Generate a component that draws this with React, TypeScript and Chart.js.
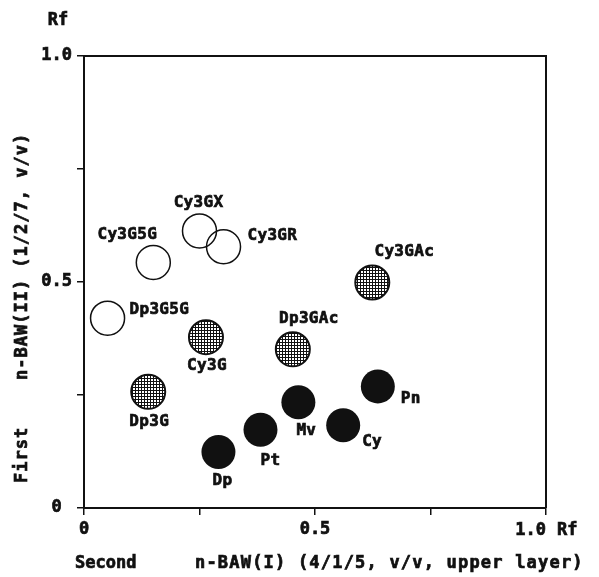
import React, { useEffect, useRef } from 'react';
import { Chart, registerables } from 'chart.js';

Chart.register(...registerables);

// ---- data ----
const openNames = ['Cy3G5G', 'Cy3GX', 'Cy3GR', 'Dp3G5G'];
const openX = [0.150, 0.250, 0.302, 0.051];
const openY = [0.543, 0.613, 0.578, 0.420];

const hatchNames = ['Cy3G', 'Dp3G', 'Dp3GAc', 'Cy3GAc'];
const hatchX = [0.264, 0.139, 0.452, 0.624];
const hatchY = [0.378, 0.257, 0.351, 0.499];

const solidNames = ['Dp', 'Pt', 'Mv', 'Cy', 'Pn'];
const solidX = [0.291, 0.382, 0.464, 0.561, 0.636];
const solidY = [0.124, 0.173, 0.234, 0.183, 0.269];

const xTickValues = [0, 0.5, 1];
const xTickLabels = ['0', '0.5', '1.0'];
const yTickValues = [0, 0.5, 1];
const yTickLabels = ['0', '0.5', '1.0'];
const unitLabel = 'Rf';
const xTitleLead = 'Second';
const xTitleMain = 'n-BAW(I) (4/1/5, v/v, upper layer)';
const yTitleLead = 'First';
const yTitleMain = 'n-BAW(II) (1/2/7, v/v)';

// ---- label placement relative to each marker (layout only) ----
const labelPlacement: Record<string, [number, number, CanvasTextAlign]> = {
  Cy3G5G: [-26, -28, 'center'],
  Cy3GX: [-1, -28, 'center'],
  Cy3GR: [24, -11, 'left'],
  Dp3G5G: [22, -8, 'left'],
  Cy3G: [1, 29, 'center'],
  Dp3G: [1, 30, 'center'],
  Dp3GAc: [16, -31, 'center'],
  Cy3GAc: [32, -31, 'center'],
  Dp: [4, 29, 'center'],
  Pt: [10, 31, 'center'],
  Mv: [8, 29, 'center'],
  Cy: [19, 17, 'left'],
  Pn: [23, 12, 'left'],
};

const MONO = '"DejaVu Sans Mono", "Liberation Mono", monospace';
const INK = '#111';
const TEXT_STROKE = 0.7;

function makeHatch(): CanvasPattern | string {
  const pc = document.createElement('canvas');
  pc.width = 3;
  pc.height = 3;
  const c = pc.getContext('2d');
  if (!c) return '#777';
  c.fillStyle = '#fff';
  c.fillRect(0, 0, 3, 3);
  c.fillStyle = INK;
  c.fillRect(0, 0, 3, 1);
  c.fillRect(0, 0, 1, 3);
  const p = c.createPattern(pc, 'repeat');
  return p || '#777';
}

function boldText(ctx: CanvasRenderingContext2D, t: string, x: number, y: number) {
  ctx.fillText(t, x, y);
  ctx.strokeText(t, x, y);
}

export default function App() {
  const ref = useRef<HTMLCanvasElement | null>(null);

  useEffect(() => {
    const canvas = ref.current;
    if (!canvas) return;
    const hatch = makeHatch();
    const nameSets = [openNames, hatchNames, solidNames];

    const labelsPlugin = {
      id: 'pointLabels',
      afterDatasetsDraw(chart: any) {
        const ctx = chart.ctx as CanvasRenderingContext2D;
        ctx.save();
        ctx.fillStyle = INK;
        ctx.strokeStyle = INK;
        ctx.lineWidth = TEXT_STROKE;
        ctx.font = `bold 16px ${MONO}`;
        (ctx as any).letterSpacing = '0.3px';
        ctx.textBaseline = 'middle';
        nameSets.forEach((names, di) => {
          const meta = chart.getDatasetMeta(di);
          names.forEach((n, j) => {
            const el = meta.data[j];
            if (!el) return;
            const [dx, dy, al] = labelPlacement[n] || [0, -28, 'center'];
            ctx.textAlign = al;
            boldText(ctx, n, el.x + dx, el.y + dy);
          });
        });
        ctx.restore();
      },
      afterDraw(chart: any) {
        const ctx = chart.ctx as CanvasRenderingContext2D;
        const a = chart.chartArea;
        const xs = chart.scales.x;
        ctx.save();
        // top and right frame
        ctx.strokeStyle = INK;
        ctx.lineWidth = 2;
        ctx.beginPath();
        ctx.moveTo(a.left, a.top);
        ctx.lineTo(a.right, a.top);
        ctx.lineTo(a.right, a.bottom);
        ctx.stroke();

        ctx.fillStyle = INK;
        ctx.lineWidth = TEXT_STROKE;
        ctx.font = `bold 17px ${MONO}`;
        ctx.textBaseline = 'middle';
        // last x tick label, right aligned to its tick, plus unit
        const lastX = xs.getPixelForValue(xTickValues[xTickValues.length - 1]);
        ctx.textAlign = 'right';
        boldText(ctx, xTickLabels[xTickLabels.length - 1], lastX, a.bottom + 23);
        ctx.textAlign = 'left';
        boldText(ctx, unitLabel, lastX + 11, a.bottom + 23);
        // unit on top of y axis
        ctx.textAlign = 'center';
        boldText(ctx, unitLabel, 58, 21);

        // x title
        ctx.textAlign = 'left';
        boldText(ctx, xTitleLead, 75, a.bottom + 56);
        (ctx as any).letterSpacing = '1.2px';
        boldText(ctx, xTitleMain, 195, a.bottom + 56);

        // y title (rotated)
        (ctx as any).letterSpacing = '1px';
        ctx.translate(23, 483);
        ctx.rotate(-Math.PI / 2);
        ctx.textAlign = 'left';
        boldText(ctx, yTitleLead, 0, 0);
        boldText(ctx, yTitleMain, 103, 0);
        ctx.restore();
      },
    };

    const toPts = (xs: number[], ys: number[]) => xs.map((x, i) => ({ x, y: ys[i] }));

    const tickFont = { family: MONO, size: 17, weight: 'bold' };

    const chart = new Chart(canvas, {
      type: 'scatter',
      data: {
        datasets: [
          {
            label: 'open',
            data: toPts(openX, openY),
            pointRadius: 17,
            pointHoverRadius: 17,
            borderWidth: 1.5,
            borderColor: INK,
            backgroundColor: 'rgba(0,0,0,0)',
          },
          {
            label: 'hatched',
            data: toPts(hatchX, hatchY),
            pointRadius: 17,
            pointHoverRadius: 17,
            borderWidth: 2,
            borderColor: INK,
            backgroundColor: hatch as any,
          },
          {
            label: 'filled',
            data: toPts(solidX, solidY),
            pointRadius: 17,
            pointHoverRadius: 17,
            borderWidth: 0,
            borderColor: INK,
            backgroundColor: INK,
          },
        ],
      },
      options: {
        responsive: false,
        animation: false,
        events: [],
        layout: { autoPadding: false, padding: { left: 0, right: 53, top: 56, bottom: 0 } },
        plugins: { legend: { display: false }, tooltip: { enabled: false }, title: { display: false } },
        scales: {
          x: {
            type: 'linear',
            min: 0,
            max: 1,
            ticks: {
              stepSize: 0.25,
              color: INK,
              padding: 4,
              maxRotation: 0,
              textStrokeColor: INK,
              textStrokeWidth: TEXT_STROKE,
              font: tickFont,
              callback: (v: any) => {
                const i = xTickValues.indexOf(Number(v));
                return i >= 0 && i < xTickValues.length - 1 ? xTickLabels[i] : '';
              },
            },
            grid: { display: true, drawOnChartArea: false, drawTicks: true, tickLength: 7, color: INK, lineWidth: 1.5 },
            border: { display: true, color: INK, width: 2 },
            afterFit: (s: any) => { s.height = 69; },
          },
          y: {
            type: 'linear',
            min: 0,
            max: 1,
            ticks: {
              stepSize: 0.25,
              color: INK,
              padding: 5,
              crossAlign: 'center',
              textStrokeColor: INK,
              textStrokeWidth: TEXT_STROKE,
              font: tickFont,
              callback: (v: any) => {
                const i = yTickValues.indexOf(Number(v));
                return i >= 0 ? yTickLabels[i] : '';
              },
            },
            grid: { display: true, drawOnChartArea: false, drawTicks: true, tickLength: 7, color: INK, lineWidth: 1.5 },
            border: { display: true, color: INK, width: 2 },
            afterFit: (s: any) => { s.width = 84; },
          },
        },
      } as any,
      plugins: [labelsPlugin],
    });

    return () => chart.destroy();
  }, []);

  return (
    <div style={{ position: 'absolute', left: 0, top: 0, width: 599, height: 577, background: '#fff' }}>
      <canvas ref={ref} width={599} height={577} style={{ display: 'block' }} />
    </div>
  );
}
